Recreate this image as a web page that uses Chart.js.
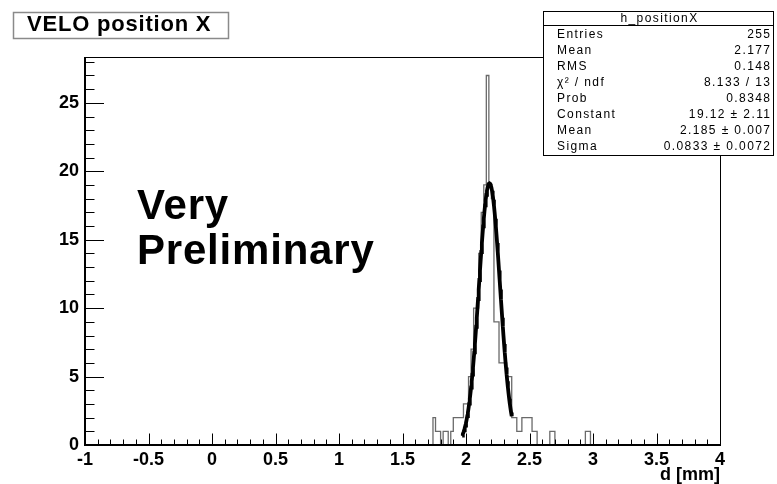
<!DOCTYPE html>
<html>
<head>
<meta charset="utf-8">
<title>VELO position X</title>
<script src="https://cdn.jsdelivr.net/npm/chart.js@4.4.1/dist/chart.umd.min.js"></script>
<style>
  html, body { margin: 0; padding: 0; background: #fff; }
  canvas { display: block; }
</style>
</head>
<body>
<canvas id="chart" width="777" height="484"></canvas>
<script>
// h_positionX: counts in 0.02 mm bins, the first one starting at 1.74 mm.
// Every bin outside 1.74 .. 2.98 mm is empty.
const BIN_START = 1.74;
const BIN_WIDTH = 0.02;
const BIN_COUNTS = [
  2, 1, 1, 0, 1, 1, 0, 1,          // 1.74 - 1.90
  2, 2, 2, 2, 3, 3,                // 1.90 - 2.02
  5, 7, 10, 10, 14, 17, 19, 27,    // 2.02 - 2.18
  19, 18, 9, 9, 6, 6, 6, 5, 5,     // 2.18 - 2.36
  2, 2, 1, 1, 2, 2, 2, 2, 1, 1,    // 2.36 - 2.56
  0, 0, 0, 0, 0, 1, 1,             // 2.56 - 2.70
  0, 0, 0, 0, 0, 0, 0, 0, 0, 0, 0, 0, // 2.70 - 2.94
  1, 1,                            // 2.94 - 2.98
];

// Gaussian fit result and the range it was fitted over
const FIT_CONSTANT = 19.12;
const FIT_MEAN = 2.185;
const FIT_SIGMA = 0.0833;
const FIT_RANGE = [1.97, 2.36];

const X_RANGE = [-1, 4];
const Y_MAX = 28.35;
const X_TICK_STEP = 0.5;
const Y_TICK_STEP = 5;

const TITLE = "VELO position X";
const X_TITLE = "d [mm]";
const WATERMARK = ["Very", "Preliminary"];

const STATS_TITLE = "h_positionX";
const STATS_LABELS = ["Entries", "Mean", "RMS", "χ² / ndf", "Prob", "Constant", "Mean", "Sigma"];
const STATS_VALUES = ["255", "2.177", "0.148", "8.133 / 13", "0.8348", "19.12 ± 2.11", "2.185 ± 0.007", "0.0833 ± 0.0072"];

const FONT = "'Liberation Sans', Arial, Helvetica, sans-serif";

// step outline: one point per left bin edge, closed back down to zero
const histPoints = [{ x: X_RANGE[0], y: 0 }];
BIN_COUNTS.forEach((n, i) => {
  histPoints.push({ x: +(BIN_START + i * BIN_WIDTH).toFixed(2), y: n });
});
histPoints.push({ x: +(BIN_START + BIN_COUNTS.length * BIN_WIDTH).toFixed(2), y: 0 });
histPoints.push({ x: X_RANGE[1], y: 0 });

// fitted gaussian, drawn over the fit range only
const fitPoints = [];
for (let x = FIT_RANGE[0]; x <= FIT_RANGE[1] + 1e-9; x += 0.005) {
  const z = (x - FIT_MEAN) / FIT_SIGMA;
  fitPoints.push({ x, y: FIT_CONSTANT * Math.exp(-0.5 * z * z) });
}

function spacedText(ctx, text, x, y, font, spacing, align) {
  ctx.font = font;
  ctx.letterSpacing = spacing + "px";
  ctx.textAlign = align || "left";
  // trailing spacing would push right-aligned text left
  ctx.fillText(text, align === "right" ? x + spacing : x, y);
  ctx.letterSpacing = "0px";
}

// ROOT style frame: ticks pointing into the pad, plus title, stats box and label
const rootPad = {
  id: "rootPad",
  afterDatasetsDraw(chart) {
    const { ctx, chartArea: a, scales: { x, y } } = chart;
    ctx.save();
    ctx.strokeStyle = "#000";
    ctx.lineWidth = 1;
    ctx.beginPath();
    for (let i = 0; i <= 50; i++) {
      const px = Math.round(x.getPixelForValue(X_RANGE[0] + i * 0.1)) + 0.5;
      const len = i % 5 === 0 ? 11.5 : 5.5;
      ctx.moveTo(px, a.bottom);
      ctx.lineTo(px, a.bottom - len);
    }
    for (let v = 0; v <= Math.floor(Y_MAX); v++) {
      const py = Math.round(y.getPixelForValue(v)) + 0.5;
      const len = v % 5 === 0 ? 19 : 9.5;
      ctx.moveTo(a.left, py);
      ctx.lineTo(a.left + len, py);
    }
    ctx.stroke();

    ctx.strokeRect(a.left + 0.5, a.top + 0.5, a.right - a.left, a.bottom - a.top);
    ctx.lineWidth = 2;
    ctx.beginPath();
    ctx.moveTo(a.left, a.top);
    ctx.lineTo(a.left, a.bottom);
    ctx.lineTo(a.right, a.bottom);
    ctx.stroke();
    ctx.restore();
  },
  afterDraw(chart) {
    const { ctx } = chart;
    ctx.save();
    ctx.textBaseline = "alphabetic";

    // histogram title
    ctx.fillStyle = "#fff";
    ctx.fillRect(13, 12, 216, 27);
    ctx.strokeStyle = "#8a8a8a";
    ctx.lineWidth = 1.5;
    ctx.strokeRect(13.5, 12.5, 215, 26);
    ctx.fillStyle = "#000";
    spacedText(ctx, TITLE, 27, 31, "bold 22px " + FONT, 0.8);

    // big label inside the pad
    spacedText(ctx, WATERMARK[0], 137, 219, "bold 42px " + FONT, 0.8);
    spacedText(ctx, WATERMARK[1], 137, 264, "bold 42px " + FONT, 0.8);

    // stats box
    const bx = 543.5, by = 11.5, bw = 230, bh = 144;
    ctx.fillStyle = "#fff";
    ctx.fillRect(bx, by, bw, bh);
    ctx.strokeStyle = "#000";
    ctx.lineWidth = 1;
    ctx.strokeRect(bx, by, bw, bh);
    ctx.beginPath();
    ctx.moveTo(bx, 25.5);
    ctx.lineTo(bx + bw, 25.5);
    ctx.stroke();
    ctx.fillStyle = "#000";
    ctx.textBaseline = "middle";
    spacedText(ctx, STATS_TITLE, bx + bw / 2 + 1, 19, "12px " + FONT, 1.4, "center");
    STATS_LABELS.forEach((label, i) => {
      const ry = 35 + i * 16;
      spacedText(ctx, label, 557, ry, "12px " + FONT, 1.4);
      spacedText(ctx, STATS_VALUES[i], 770, ry, "12px " + FONT, 1.4, "right");
    });
    ctx.restore();
  },
};

Chart.defaults.font.family = FONT;
Chart.defaults.color = "#000";

new Chart(document.getElementById("chart"), {
  type: "line",
  data: {
    datasets: [
      {
        label: "fit",
        data: fitPoints,
        borderColor: "#000",
        borderWidth: 3.8,
        pointRadius: 0,
        tension: 0,
      },
      {
        label: "h_positionX",
        data: histPoints,
        stepped: "before",
        borderColor: "#6a6a6a",
        borderWidth: 1.3,
        pointRadius: 0,
        fill: false,
      },
    ],
  },
  options: {
    responsive: false,
    animation: false,
    events: [],
    layout: { padding: { top: 57, right: 57, left: 0, bottom: 0 } },
    plugins: {
      legend: { display: false },
      tooltip: { enabled: false },
    },
    scales: {
      x: {
        type: "linear",
        min: X_RANGE[0],
        max: X_RANGE[1],
        grid: { display: false, drawTicks: false },
        border: { display: false },
        ticks: {
          stepSize: X_TICK_STEP,
          padding: 4,
          maxRotation: 0,
          font: { size: 18, weight: "bold" },
          callback: (v) => String(+v.toFixed(1)),
        },
        title: {
          display: true,
          text: X_TITLE,
          align: "end",
          padding: 0,
          font: { size: 18, weight: "bold", lineHeight: 1 },
        },
        afterFit(scale) { scale.height = 39; },
      },
      y: {
        min: 0,
        max: Y_MAX,
        grid: { display: false, drawTicks: false },
        border: { display: false },
        ticks: {
          stepSize: Y_TICK_STEP,
          includeBounds: false,
          padding: 6,
          font: { size: 18, weight: "bold" },
        },
        afterFit(scale) { scale.width = 85; },
      },
    },
  },
  plugins: [rootPad],
});
</script>
</body>
</html>
